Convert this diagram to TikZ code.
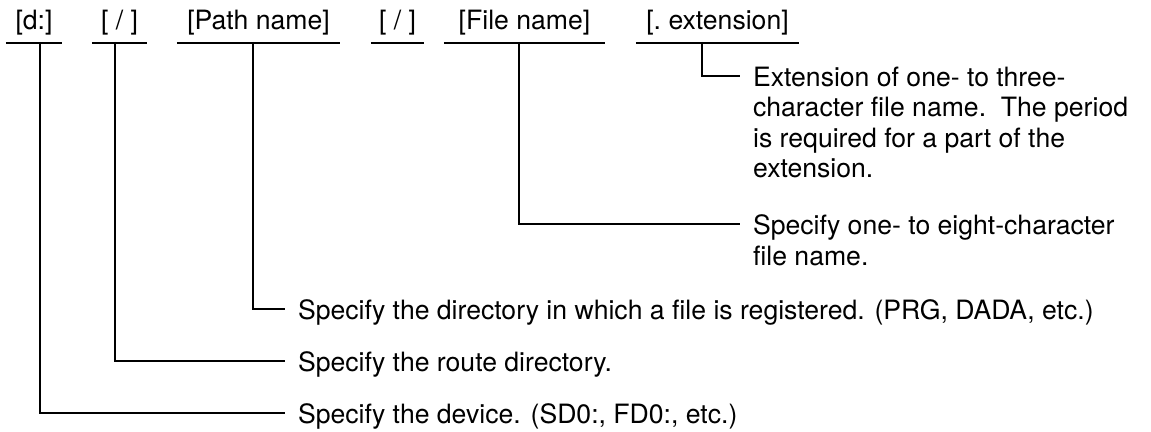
\documentclass[tikz,border=0pt]{standalone}
\usepackage{fontspec}
\setmainfont{TeX Gyre Heros}
\usepackage{tikz}
\usetikzlibrary{positioning}

\begin{document}
\begin{tikzpicture}[x=0.5pt,y=-0.5pt,line width=1.1pt,
		font=\fontsize{13.3}{15.25}\selectfont,
		field/.style={anchor=base,inner xsep=0pt,inner ysep=3.5pt,text depth=2.5pt},
		desc/.style={anchor=north west,align=left,inner xsep=6pt,inner ysep=0pt},
		elbow/.style={to path={|- (\tikztotarget)}}]
			\useasboundingbox (0,0) rectangle (1151,432);
			\node[field,minimum width=27pt] (dlab) at (34,30) {[d:]};
			\node[field,minimum width=26.5pt] (rootlab) at (119.5,30) {[ / ]};
			\node[field,minimum width=80.5pt] (pathlab) at (258.5,30) {[Path name]};
			\node[field,minimum width=25.5pt] (seplab) at (397.5,30) {[ / ]};
			\node[field,minimum width=79.5pt] (filelab) at (524.5,30) {[File name]};
			\node[field,minimum width=80.5pt] (extlab) at (717.5,30) {[.\ extension]};
			\foreach \f in {dlab,rootlab,pathlab,seplab,filelab,extlab}
				\draw (\f.south west) -- (\f.south east);
			\coordinate (dtap) at (40,42);
			\coordinate (roottap) at (115,42);
			\coordinate (pathtap) at (253,42);
			\coordinate (filetap) at (519,42);
			\coordinate (exttap) at (702,42);
			\node[desc] (exttxt) at (740,65.6) {Extension of one- to three-\\character file name.\ \ The period\\is required for a part of the\\extension.};
			\node[desc] (filetxt) at (740,213.6) {Specify one- to eight-character\\file name.};
			\node[desc] (pathtxt) at (285,298.6) {Specify the directory in which a file is registered. (PRG, DADA, etc.)};
			\node[desc] (roottxt) at (285,350.6) {Specify the route directory.};
			\node[desc] (devtxt) at (285,402.6) {Specify the device. (SD0:, FD0:, etc.)};
			\path[draw]
			(exttap) edge[elbow] ([yshift=-5.2pt]exttxt.north west)
			(filetap) edge[elbow] ([yshift=-5.2pt]filetxt.north west)
			(pathtap) edge[elbow] ([yshift=-5.2pt]pathtxt.north west)
			(roottap) edge[elbow] ([yshift=-5.2pt]roottxt.north west)
			(dtap) edge[elbow] ([yshift=-5.2pt]devtxt.north west);
		\end{tikzpicture}
\end{document}
